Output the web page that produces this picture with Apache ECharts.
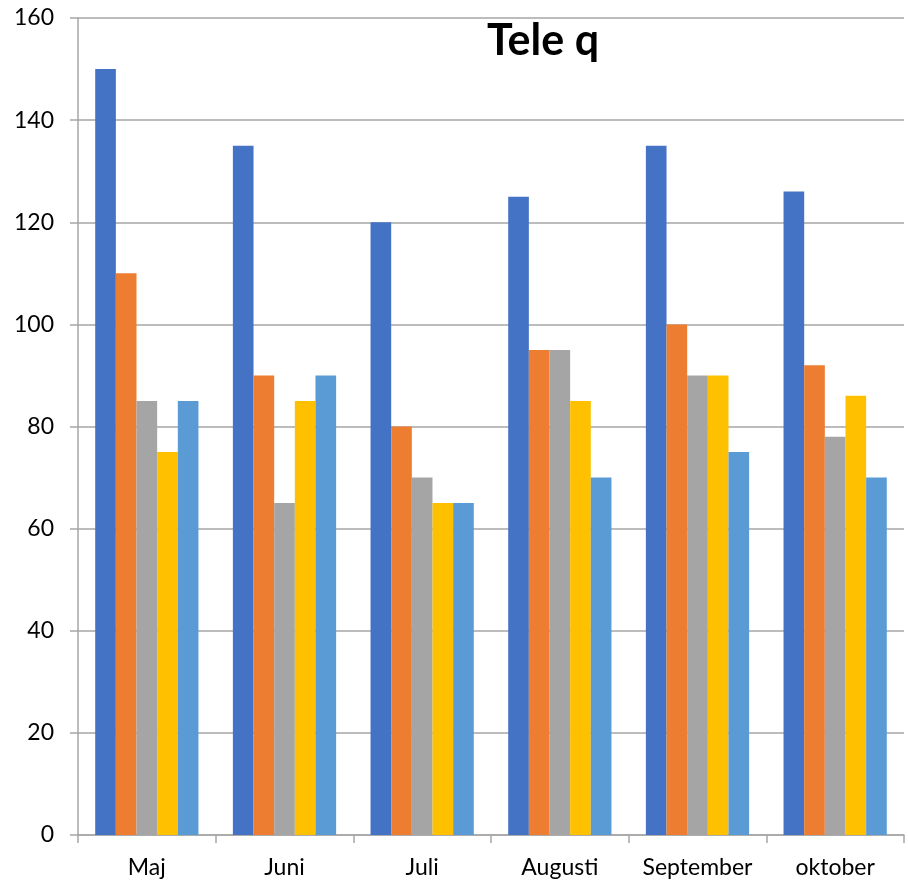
<!DOCTYPE html>
<html>
<head>
<meta charset="utf-8">
<script src="https://cdn.jsdelivr.net/npm/echarts@6/dist/echarts.min.js"></script>
<style>
  html, body { margin: 0; padding: 0; background: #fff; }
  #chart { width: 908px; height: 885px; }
</style>
</head>
<body>
<div id="chart"></div>
<script>
// månader
const months = ['Maj', 'Juni', 'Juli', 'Augusti', 'September', 'oktober']
// fem serier
const serie1 = [150, 135, 120, 125, 135, 126]
const serie2 = [110, 90, 80, 95, 100, 92]
const serie3 = [85, 65, 70, 95, 90, 78]
const serie4 = [75, 85, 65, 85, 90, 86]
const serie5 = [85, 90, 65, 70, 75, 70]
const seriesNames = ['Serie 1', 'Serie 2', 'Serie 3', 'Serie 4', 'Serie 5']
const colors = ['#4472C4', '#ED7D31', '#A5A5A5', '#FFC000', '#5B9BD5']

const chart = echarts.init(document.getElementById('chart'))

const font = 'Lato, "Open Sans", sans-serif'

const option = {
  animation: false,
  color: colors,
  title: {
    text: 'Tele q',
    left: 538,
    textAlign: 'center',
    top: 15,
    textStyle: {
      fontFamily: font,
      fontWeight: 'bold',
      fontSize: 43,
      color: '#000',
    },
  },
  grid: {
    left: 78,
    right: 4,
    top: 18,
    bottom: 50,
  },
  xAxis: {
    type: 'category',
    data: months,
    axisLine: { lineStyle: { color: '#a6a6a6', width: 1.5 } },
    axisTick: {
      show: true,
      interval: 0,
      length: 8,
      lineStyle: { color: '#a6a6a6', width: 1.5 },
    },
    axisLabel: {
      interval: 0,
      hideOverlap: false,
      color: '#000',
      fontFamily: font,
      fontSize: 23,
      margin: 21,
    },
  },
  yAxis: {
    type: 'value',
    min: 0,
    max: 160,
    interval: 20,
    axisLine: { show: true, lineStyle: { color: '#a6a6a6', width: 1.5 } },
    axisTick: {
      show: true,
      length: 8,
      lineStyle: { color: '#a6a6a6', width: 1.5 },
    },
    // rutnät
    splitLine: { lineStyle: { color: '#a6a6a6', width: 1.5 } },
    axisLabel: {
      color: '#000',
      fontFamily: font,
      fontSize: 23,
      margin: 24,
    },
  },
  series: [serie1, serie2, serie3, serie4, serie5].map((d, i) => ({
    name: seriesNames[i],
    type: 'bar',
    data: d,
    barGap: 0,
    barCategoryGap: '25%',
    itemStyle: { color: colors[i] },
  })),
}

chart.setOption(option)
</script>
</body>
</html>
